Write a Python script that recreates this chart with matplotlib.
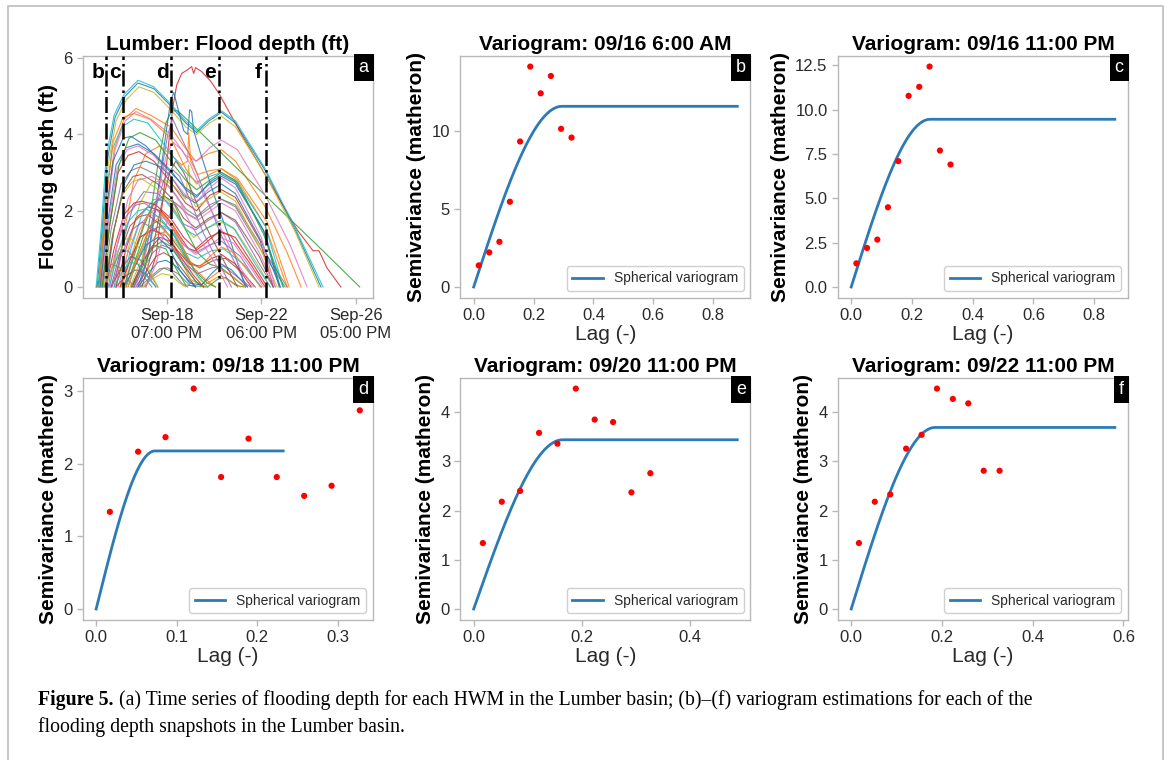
import datetime as dt

import matplotlib
matplotlib.use("Agg")
import matplotlib.pyplot as plt
import numpy as np
from matplotlib.lines import Line2D
from matplotlib.ticker import MultipleLocator

plt.rcParams['font.family'] = ['Liberation Sans', 'DejaVu Sans']

# ---- (a) flood depth per HWM : keypoints (hours since 2018-09-15 00:00, depth ft)
T0 = dt.datetime(2018, 9, 15)
hydrographs = [
    [(21, 0), (26, 1.5), (31, 3.3), (39, 4.45), (49, 5.0), (62, 5.35), (78, 5.2), (95, 4.75), (110, 4.3), (121, 4.05), (133, 4.35), (146, 4.58), (160, 4.3), (190, 3.05), (220, 1.5), (246, 0)],
    [(24, 0), (30, 1.8), (38, 3.6), (48, 4.4), (60, 4.68), (75, 4.5), (95, 4.2), (108, 3.7), (120, 3.3), (133, 3.5), (146, 3.6), (160, 3.3), (190, 2.1), (212, 0.9), (226, 0)],
    [(58, 0), (66, 0.6), (74, 1.8), (82, 3.2), (90, 4.3), (96, 4.62), (102, 4.62), (125, 4.05), (160, 3.15), (200, 2.15), (240, 1.15), (285, 0)],
    [(70, 0), (80, 0.8), (88, 2.5), (93, 3.8), (97, 4.7), (101, 5.3), (106, 5.6), (112, 5.7), (116, 5.78), (118, 5.6), (120, 5.75), (126, 5.65), (135, 5.4), (144, 5.05), (165, 4.05), (192, 2.85), (222, 1.5), (238, 0.95), (244, 0.95), (252, 0.5), (266, 0)],
    [(64, 0), (74, 1.0), (84, 2.8), (92, 4.0), (97, 4.4), (104, 4.0), (115, 3.4), (130, 2.4), (145, 1.4), (160, 0.6), (172, 0)],
    [(35, 0), (44, 0.9), (54, 1.6), (64, 1.85), (72, 1.9), (86, 1.6), (98, 1.2), (112, 0.7), (124, 0.5), (138, 0.7), (150, 0.75), (168, 0.35), (180, 0)],
    [(25, 0), (31, 1.9), (39, 3.6), (49, 4.35), (60, 4.6), (75, 4.4), (95, 4.0), (110, 3.45), (121, 3.3), (134, 3.65), (146, 3.85), (162, 3.6), (190, 2.4), (215, 1.1), (232, 0)],
    [(27, 0), (35, 1.5), (45, 2.7), (55, 3.05), (64, 3.15), (80, 2.95), (95, 2.6), (110, 2.05), (121, 1.85), (134, 2.15), (146, 2.3), (160, 2.1), (185, 1.0), (210, 0)],
    [(22, 0), (27, 1.4), (32, 3.2), (40, 4.35), (50, 4.9), (63, 5.25), (78, 5.1), (95, 4.65), (110, 4.2), (121, 4.0), (134, 4.3), (146, 4.48), (160, 4.2), (190, 2.95), (220, 1.45), (244, 0)],
    [(20, 0), (25, 1.5), (30, 3.4), (38, 4.5), (48, 5.05), (62, 5.42), (78, 5.25), (95, 4.8), (110, 4.35), (121, 4.1), (133, 4.4), (146, 4.62), (160, 4.35), (190, 3.1), (220, 1.55), (248, 0)],
    [(62, 0), (72, 0.8), (82, 2.5), (90, 4.0), (95, 4.9), (98, 5.1), (102, 4.7), (108, 4.1), (112, 4.0), (114, 4.65), (116, 4.6), (118, 4.1), (125, 3.5), (140, 2.3), (155, 1.2), (170, 0)],
    [(40, 0), (48, 1.4), (58, 2.8), (70, 3.5), (84, 3.7), (96, 3.45), (106, 3.2), (112, 3.3), (113, 4.05), (115, 3.3), (122, 2.95), (134, 3.05), (146, 3.1), (162, 2.8), (190, 1.6), (212, 0)],
    [(48, 0), (58, 0.8), (68, 1.6), (78, 2.2), (88, 2.4), (98, 2.2), (110, 1.5), (122, 0.9), (134, 0.6), (146, 0.5), (160, 0.2), (170, 0)],
    [(26, 0), (33, 1.5), (42, 3.0), (52, 3.45), (63, 3.55), (78, 3.3), (95, 2.75), (110, 2.2), (121, 2.0), (134, 2.4), (146, 2.55), (160, 2.35), (185, 1.2), (198, 0)],
    [(38, 0), (47, 1.2), (57, 2.1), (68, 2.5), (82, 2.45), (95, 2.15), (108, 1.65), (120, 1.5), (133, 1.75), (146, 1.95), (160, 1.7), (182, 0.7), (198, 0)],
    [(60, 0), (70, 0.4), (80, 0.8), (88, 0.9), (98, 0.75), (110, 0.35), (120, 0)],
    [(60, 0), (70, 0.9), (80, 2.2), (90, 3.4), (97, 3.8), (106, 3.6), (115, 3.2), (130, 2.3), (146, 1.5), (165, 0.5), (178, 0)],
    [(48, 0), (58, 0.9), (70, 1.8), (80, 2.25), (90, 2.35), (100, 2.2), (110, 1.95), (120, 1.8), (133, 2.05), (146, 2.3), (160, 2.15), (185, 1.1), (212, 0)],
    [(44, 0), (54, 1.2), (64, 2.2), (76, 2.75), (90, 2.8), (100, 2.6), (110, 2.3), (113, 3.2), (115, 2.4), (120, 2.1), (133, 2.3), (145, 2.5), (160, 2.25), (185, 1.0), (202, 0)],
    [(22, 0), (28, 2.0), (36, 3.6), (46, 4.2), (58, 4.4), (72, 4.3), (95, 3.5), (110, 3.0), (121, 2.75), (134, 2.9), (146, 3.0), (160, 2.8), (190, 1.6), (208, 0)],
    [(30, 0), (38, 1.5), (48, 2.7), (58, 3.2), (70, 3.3), (85, 3.15), (95, 2.9), (108, 2.4), (120, 2.2), (133, 2.5), (146, 2.7), (160, 2.45), (186, 1.2), (205, 0)],
    [(46, 0), (55, 0.8), (64, 1.5), (72, 1.9), (80, 2.05), (92, 1.8), (105, 1.1), (118, 0.5), (130, 0.2), (140, 0)],
    [(50, 0), (58, 0.6), (67, 1.3), (76, 1.65), (84, 1.75), (95, 1.5), (108, 0.9), (120, 0.4), (132, 0.1), (140, 0)],
    [(40, 0), (50, 1.0), (60, 1.8), (72, 2.1), (85, 2.0), (95, 1.7), (105, 1.3), (113, 1.0), (120, 0.95), (130, 1.15), (143, 1.45), (155, 1.35), (175, 0.6), (190, 0)],
    [(32, 0), (40, 1.0), (50, 1.85), (60, 2.15), (68, 2.2), (82, 2.0), (95, 1.6), (108, 1.1), (120, 0.9), (134, 1.1), (146, 1.2), (165, 0.8), (185, 0)],
    [(35, 0), (45, 0.5), (55, 0.8), (65, 0.7), (75, 0.3), (82, 0)],
    [(42, 0), (52, 0.9), (62, 1.6), (74, 1.9), (88, 1.8), (98, 1.5), (110, 1.05), (120, 0.85), (132, 1.05), (145, 1.3), (158, 1.15), (178, 0.4), (188, 0)],
    [(64, 0), (74, 0.25), (84, 0.48), (92, 0.5), (102, 0.35), (114, 0.05), (120, 0)],
    [(28, 0), (36, 1.3), (46, 2.4), (56, 2.75), (65, 2.85), (80, 2.6), (95, 2.2), (108, 1.6), (118, 1.3), (132, 1.55), (146, 1.7), (160, 1.5), (182, 0.6), (195, 0)],
    [(45, 0), (55, 1.0), (66, 1.9), (78, 2.3), (90, 2.25), (100, 1.9), (110, 1.5), (120, 1.35), (132, 1.55), (145, 1.75), (158, 1.55), (180, 0.6), (195, 0)],
    [(23, 0), (29, 1.8), (37, 3.3), (47, 3.9), (55, 3.95), (70, 3.7), (95, 3.0), (110, 2.6), (121, 2.4), (134, 2.7), (146, 2.9), (160, 2.7), (190, 1.4), (205, 0)],
    [(50, 0), (60, 0.7), (72, 1.4), (84, 1.6), (95, 1.3), (105, 0.7), (115, 0.2), (125, 0.05), (138, 0.3), (146, 0.45), (156, 0.3), (170, 0)],
    [(55, 0), (66, 0.6), (78, 1.1), (90, 1.0), (100, 0.5), (110, 0.05), (132, 0.0), (142, 0.2), (150, 0.25), (160, 0.05), (168, 0)],
    [(30, 0), (38, 1.0), (48, 1.9), (58, 2.2), (66, 2.25), (80, 2.15), (95, 1.8), (108, 1.3), (120, 1.0), (133, 1.3), (146, 1.45), (160, 1.3), (180, 0.5), (192, 0)],
    [(58, 0), (67, 0.45), (77, 0.9), (86, 1.1), (96, 1.0), (108, 0.6), (120, 0.15), (128, 0)],
    [(40, 0), (50, 0.3), (60, 0.45), (70, 0.35), (80, 0)],
    [(25, 0), (32, 1.6), (41, 3.1), (51, 3.6), (62, 3.7), (78, 3.45), (95, 2.9), (110, 2.4), (121, 2.25), (134, 2.6), (146, 2.85), (160, 2.6), (186, 1.3), (200, 0)],
    [(68, 0), (78, 0.3), (88, 0.5), (96, 0.4), (106, 0.1), (112, 0)],
    [(54, 0), (62, 0.5), (72, 1.1), (82, 1.4), (90, 1.45), (100, 1.2), (112, 0.6), (124, 0.2), (132, 0)],
    [(52, 0), (60, 0.6), (70, 1.2), (80, 1.55), (88, 1.6), (98, 1.4), (110, 0.8), (122, 0.3), (132, 0)],
    [(24, 0), (31, 1.6), (40, 3.2), (50, 3.65), (62, 3.75), (78, 3.5), (95, 3.05), (110, 2.55), (121, 2.35), (134, 2.75), (146, 2.95), (160, 2.75), (188, 1.5), (204, 0)],
    [(23, 0), (29, 2.0), (37, 3.8), (47, 4.45), (58, 4.55), (74, 4.4), (95, 3.9), (110, 3.1), (121, 2.7), (134, 2.95), (146, 3.1), (162, 2.85), (192, 1.7), (214, 0)],
    [(56, 0), (66, 0.5), (76, 1.0), (86, 1.2), (96, 1.05), (108, 0.55), (120, 0.15), (128, 0)],
    [(56, 0), (64, 0.5), (74, 1.0), (84, 1.3), (94, 1.2), (105, 0.8), (118, 0.3), (128, 0)],
    [(36, 0), (45, 0.8), (56, 1.5), (66, 1.7), (80, 1.5), (95, 1.1), (110, 0.6), (122, 0.35), (136, 0.5), (148, 0.55), (165, 0.2), (175, 0)],
    [(29, 0), (37, 1.4), (47, 2.5), (57, 2.9), (66, 2.95), (82, 2.7), (95, 2.35), (108, 1.8), (120, 1.55), (133, 1.8), (146, 1.95), (160, 1.75), (184, 0.8), (198, 0)],
    [(34, 0), (42, 1.2), (52, 2.3), (62, 2.8), (76, 2.9), (90, 2.7), (100, 2.4), (112, 1.9), (122, 1.75), (135, 2.0), (146, 2.2), (160, 2.0), (184, 0.9), (200, 0)],
    [(20, 0), (28, 0.4), (36, 0.6), (44, 0.5), (52, 0.2), (58, 0)],
    [(66, 0), (76, 0.2), (86, 0.35), (96, 0.3), (104, 0.1), (110, 0)],
    [(33, 0), (42, 0.9), (52, 1.7), (62, 2.0), (70, 2.05), (85, 1.8), (97, 1.4), (110, 0.9), (122, 0.75), (136, 0.95), (148, 1.0), (168, 0.6), (186, 0)],
    [(62, 0), (72, 0.35), (82, 0.65), (90, 0.7), (100, 0.55), (112, 0.2), (120, 0)],
    [(125, 0), (135, 0.15), (145, 0.3), (155, 0.15), (165, 0)],
    [(26, 0), (34, 1.7), (43, 3.2), (53, 3.9), (64, 4.05), (80, 3.85), (95, 3.3), (110, 2.8), (121, 2.55), (134, 2.8), (146, 3.0), (162, 2.75), (188, 1.4), (208, 0)],
    [(44, 0), (54, 0.7), (64, 1.3), (76, 1.5), (90, 1.35), (102, 0.95), (114, 0.6), (124, 0.55), (136, 0.75), (146, 0.85), (160, 0.6), (176, 0)],
    [(58, 0), (68, 0.8), (78, 1.9), (88, 2.8), (96, 3.1), (104, 2.9), (114, 2.3), (128, 1.4), (142, 0.7), (156, 0)],
    [(66, 0), (76, 0.9), (86, 2.2), (94, 3.0), (100, 3.3), (108, 3.0), (118, 2.4), (130, 1.6), (146, 0.8), (162, 0)],
    [(70, 0), (80, 0.6), (90, 1.6), (98, 2.2), (106, 2.1), (116, 1.6), (128, 1.1), (140, 0.6), (152, 0)],
    [(28, 0), (36, 0.5), (44, 0.9), (52, 0.95), (60, 0.7), (70, 0.2), (76, 0)],
    [(30, 0), (38, 0.7), (46, 1.2), (54, 1.3), (64, 1.0), (74, 0.4), (82, 0)],
    [(38, 0), (46, 0.4), (54, 0.65), (62, 0.6), (72, 0.25), (80, 0)],
    [(48, 0), (58, 0.5), (70, 1.1), (82, 1.3), (94, 1.0), (104, 0.45), (114, 0.1), (126, 0.05), (136, 0.35), (146, 0.6), (156, 0.45), (172, 0)],
    [(52, 0), (62, 0.8), (74, 1.6), (86, 1.9), (98, 1.6), (108, 1.0), (116, 0.6), (124, 0.5), (134, 0.8), (146, 1.05), (158, 0.9), (176, 0.3), (186, 0)],
]
snapshot_hours = [30, 47, 95, 143, 191]
snapshot_tags = ['b', 'c', 'd', 'e', 'f']
xtick_hours = [91, 186, 281]

# ---- (b)-(f) experimental variograms
lag_bins = [0.017, 0.052, 0.086, 0.121, 0.155, 0.189, 0.224, 0.258, 0.292, 0.327]
gamma_b = [1.38, 2.21, 2.89, 5.45, 9.30, 14.09, 12.38, 13.49, 10.11, 9.55]
gamma_c = [1.33, 2.20, 2.67, 4.49, 7.09, 10.77, 11.28, 12.42, 7.69, 6.90]
gamma_d = [1.34, 2.17, 2.37, 3.04, 1.82, 2.35, 1.82, 1.56, 1.70, 2.74]
gamma_e = [1.34, 2.18, 2.40, 3.58, 3.36, 4.48, 3.85, 3.80, 2.37, 2.76]
gamma_f = [1.34, 2.18, 2.33, 3.26, 3.54, 4.48, 4.27, 4.18, 2.81, 2.81]
# fitted spherical model: sill, range, largest lag drawn
sills = [11.55, 9.45, 2.18, 3.44, 3.69]
ranges = [0.295, 0.26, 0.073, 0.165, 0.185]
max_lags = [0.881, 0.868, 0.232, 0.488, 0.581]
x_steps = [0.2, 0.2, 0.1, 0.2, 0.2]
y_steps = [5, 2.5, 1, 1, 1]

SPINE = '#b8b8b8'
TXT = '#2a2a2a'


def style_axes(ax):
    for sp in ax.spines.values():
        sp.set_color(SPINE)
        sp.set_linewidth(1.0)
    ax.tick_params(direction='out', length=4, width=1, color=SPINE,
                   labelcolor=TXT, labelsize=12)


def tag_box(ax, tag):
    ax.text(0.985, 0.985, tag, transform=ax.transAxes, ha='right', va='top',
            color='white', fontsize=13, zorder=10,
            bbox=dict(boxstyle='square,pad=0.28', fc='black', ec='none'))


def spherical(h, sill, rng):
    r = np.minimum(h / rng, 1.0)
    return sill * (1.5 * r - 0.5 * r ** 3)


fig = plt.figure(figsize=(11.67, 7.60), dpi=100)

lefts = [0.0711, 0.3946, 0.7181]
bottoms = [0.6079, 0.1842]
W, H = 0.2485, 0.319

# ---- panel a
ax = fig.add_axes([lefts[0], bottoms[0], W, H])
for pts in hydrographs:
    t, d = zip(*pts)
    ax.plot(t, d, lw=0.8, alpha=0.85)
for h, tg in zip(snapshot_hours, snapshot_tags):
    ax.axvline(h, color='black', ls='-.', lw=1.8, zorder=5)
    ax.annotate(tg, xy=(h, 5.62), xytext=(-6, 0), textcoords='offset points',
                ha='center', va='center', fontsize=15, fontweight='bold', zorder=6)
ax.set_xticks(xtick_hours)
ax.set_xticklabels([(T0 + dt.timedelta(hours=h)).strftime('%b-%d\n%I:%M %p') for h in xtick_hours])
ax.set_yticks([0, 2, 4, 6])
ax.set_title('Lumber: Flood depth (ft)', fontsize=15, fontweight='bold', pad=4)
ax.set_ylabel('Flooding depth (ft)', fontsize=15, fontweight='bold')
style_axes(ax)
tag_box(ax, 'a')

# ---- panels b-f
gammas = [gamma_b, gamma_c, gamma_d, gamma_e, gamma_f]
slots = [(1, 0), (2, 0), (0, 1), (1, 1), (2, 1)]
for i, (gam, tg) in enumerate(zip(gammas, snapshot_tags)):
    c, r = slots[i]
    ax = fig.add_axes([lefts[c], bottoms[r], W, H])
    hh = np.linspace(0, max_lags[i], 300)
    ax.plot(hh, spherical(hh, sills[i], ranges[i]), color='#2c7bb6', lw=2.0,
            label='Spherical variogram', zorder=2)
    ax.scatter(lag_bins, gam, s=20, color='red', edgecolors='none', zorder=3)
    ax.xaxis.set_major_locator(MultipleLocator(x_steps[i]))
    ax.yaxis.set_major_locator(MultipleLocator(y_steps[i]))
    when = (T0 + dt.timedelta(hours=snapshot_hours[i])).strftime('%m/%d %-I:%M %p')
    ax.set_title(f'Variogram: {when}', fontsize=15, fontweight='bold', pad=4)
    ax.set_xlabel('Lag (-)', fontsize=15, labelpad=1, color=TXT)
    ax.set_ylabel('Semivariance (matheron)', fontsize=15, fontweight='bold')
    leg = ax.legend(loc='lower right', fontsize=10, handlelength=2.2,
                    edgecolor='#d0d0d0', framealpha=1)
    for t in leg.get_texts():
        t.set_color(TXT)
    style_axes(ax)
    tag_box(ax, tg)

# ---- page frame and caption
fx = [8 / 1167, 8 / 1167, 1163 / 1167, 1163 / 1167]
fy = [0, 1 - 6 / 760, 1 - 6 / 760, 0]
fig.add_artist(Line2D(fx, fy, transform=fig.transFigure, color='#bdbdbd', lw=1.2))

cap_font = ['Liberation Serif', 'DejaVu Serif']
cap_size = 14.2
bold = fig.text(38 / 1167, 1 - 700 / 760, 'Figure 5.', family=cap_font, fontsize=cap_size,
                fontweight='bold', va='center')
plt.annotate('(a) Time series of flooding depth for each HWM in the Lumber basin; (b)\u2013(f) '
             'variogram estimations for each of the',
             xy=(1, 0), xycoords=bold, xytext=(4, 0), textcoords='offset points',
             family=cap_font, fontsize=cap_size, va='bottom', annotation_clip=False)
fig.text(38 / 1167, 1 - 727 / 760, 'flooding depth snapshots in the Lumber basin.',
         family=cap_font, fontsize=cap_size, va='center')

fig.savefig('out.png', dpi=100)
